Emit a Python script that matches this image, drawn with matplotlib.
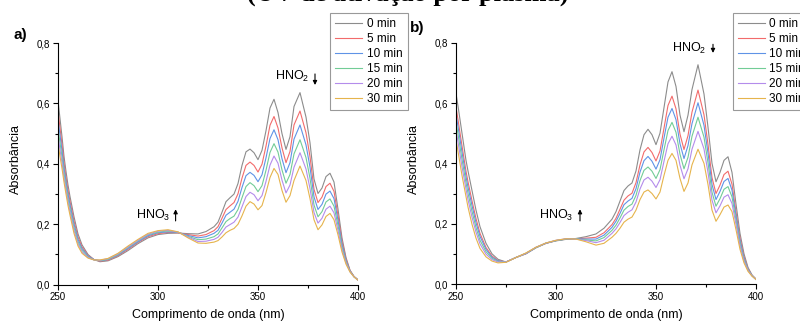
import matplotlib
matplotlib.use("Agg")
import matplotlib.pyplot as plt
from matplotlib.ticker import MultipleLocator, FuncFormatter

# ---- fonter ----
plt.rcParams['font.family'] = ['Liberation Sans', 'DejaVu Sans']
plt.rcParams['mathtext.fontset'] = 'custom'
plt.rcParams['mathtext.rm'] = 'Liberation Sans'

# ---- data ----
wl = [250, 251, 252, 253, 254, 255, 256, 258, 260, 262, 265, 268, 271, 275,
      280, 285, 290, 295, 300, 305, 310, 315, 320, 324, 328,
      330, 332, 334, 336, 338, 340, 342, 344, 346, 348, 350, 352, 354, 356, 358,
      360, 362, 364, 366, 368, 371, 374, 376, 378, 380, 382, 384, 386, 388,
      390, 392, 394, 396, 398, 400]

labels = ["0 min", "5 min", "10 min", "15 min", "20 min", "30 min"]

# panel a)
a_0 = [.610, .550, .490, .425, .375, .330, .292, .225, .168, .132, .100, .083, .076, .079,
       .093, .113, .136, .155, .166, .170, .171, .169, .168, .176, .192,
       .207, .240, .275, .288, .300, .335, .395, .440, .449, .437, .414, .445, .510, .585, .614,
       .570, .500, .448, .490, .590, .636, .555, .470, .350, .302, .320, .358, .369, .340,
       .250, .155, .090, .048, .027, .016]
a_5 = [.574, .519, .464, .404, .356, .313, .276, .211, .158, .125, .097, .083, .078, .081,
       .096, .117, .140, .159, .169, .173, .172, .166, .161, .166, .179,
       .192, .220, .249, .261, .272, .301, .353, .395, .406, .395, .373, .399, .459, .528, .557,
       .519, .453, .404, .441, .529, .575, .503, .424, .316, .272, .290, .325, .336, .309,
       .229, .143, .085, .047, .027, .016]
a_10 = [.546, .495, .444, .388, .342, .300, .265, .201, .150, .120, .095, .083, .079, .083,
        .098, .120, .142, .162, .172, .175, .173, .163, .155, .159, .170,
        .180, .204, .230, .240, .250, .276, .322, .361, .372, .362, .341, .364, .420, .484, .513,
        .480, .417, .371, .404, .482, .529, .463, .389, .291, .249, .266, .300, .310, .285,
        .213, .134, .080, .045, .027, .016]
a_15 = [.517, .470, .423, .371, .327, .286, .252, .190, .142, .114, .092, .082, .080, .084,
        .100, .123, .145, .165, .174, .178, .174, .160, .149, .151, .159,
        .168, .188, .209, .219, .227, .249, .288, .325, .338, .328, .308, .328, .379, .438, .467,
        .439, .380, .336, .365, .433, .480, .421, .352, .264, .225, .242, .274, .284, .260,
        .196, .125, .076, .044, .026, .015]
a_20 = [.491, .447, .404, .355, .313, .274, .241, .180, .135, .109, .090, .082, .081, .086,
        .102, .125, .147, .167, .177, .180, .174, .158, .143, .144, .150,
        .157, .173, .191, .199, .207, .224, .258, .292, .306, .298, .278, .295, .342, .396, .426,
        .402, .346, .304, .330, .389, .437, .383, .318, .239, .204, .220, .250, .260, .238,
        .180, .116, .072, .043, .026, .015]
a_30 = [.465, .425, .385, .340, .300, .262, .230, .170, .128, .104, .088, .082, .082, .087,
        .104, .128, .150, .170, .179, .182, .175, .155, .138, .137, .141,
        .146, .158, .172, .180, .186, .200, .228, .260, .275, .267, .248, .262, .305, .355, .385,
        .365, .312, .273, .295, .345, .393, .345, .285, .215, .182, .198, .226, .236, .215,
        .165, .108, .068, .042, .026, .015]

# panel b)
b_0 = [.632, .590, .545, .500, .455, .410, .375, .310, .245, .190, .135, .100, .082, .073,
       .088, .100, .120, .135, .143, .148, .151, .157, .166, .185, .215,
       .240, .275, .310, .325, .335, .375, .445, .495, .513, .495, .462, .500, .585, .670, .704,
       .655, .560, .505, .560, .645, .727, .630, .520, .400, .339, .370, .410, .422, .370,
       .265, .168, .100, .055, .030, .016]
b_5 = [.586, .545, .501, .458, .416, .374, .339, .276, .217, .168, .121, .093, .078, .073,
       .088, .101, .121, .135, .144, .149, .150, .152, .155, .170, .197,
       .218, .248, .278, .292, .301, .336, .395, .438, .453, .436, .408, .441, .517, .592, .623,
       .581, .497, .446, .492, .570, .643, .561, .463, .353, .300, .328, .363, .374, .331,
       .239, .152, .091, .051, .029, .016]
b_10 = [.562, .522, .480, .437, .396, .356, .321, .260, .203, .158, .115, .089, .077, .073,
        .088, .101, .121, .135, .144, .149, .150, .149, .149, .162, .188,
        .208, .234, .263, .275, .284, .316, .371, .409, .423, .407, .381, .412, .484, .553, .582,
        .545, .465, .416, .459, .532, .601, .526, .434, .330, .280, .307, .340, .350, .311,
        .227, .144, .086, .049, .028, .016]
b_15 = [.536, .497, .455, .413, .374, .336, .301, .241, .187, .145, .107, .085, .075, .073,
        .088, .102, .121, .136, .144, .149, .150, .146, .143, .154, .178,
        .195, .219, .245, .257, .265, .294, .343, .377, .388, .374, .350, .379, .445, .509, .536,
        .503, .430, .382, .420, .490, .553, .487, .402, .304, .258, .283, .314, .323, .289,
        .212, .135, .081, .047, .028, .015]
b_20 = [.510, .471, .430, .389, .352, .315, .280, .222, .172, .133, .099, .081, .073, .073,
        .088, .102, .122, .136, .145, .150, .149, .144, .137, .145, .168,
        .183, .204, .227, .238, .246, .272, .315, .345, .354, .341, .320, .346, .407, .465, .490,
        .461, .394, .349, .382, .447, .506, .448, .370, .278, .236, .259, .288, .296, .267,
        .198, .126, .076, .045, .027, .015]
b_30 = [.477, .440, .400, .360, .325, .290, .255, .198, .152, .118, .090, .076, .070, .072,
        .088, .103, .122, .136, .145, .150, .149, .140, .129, .135, .155,
        .168, .185, .205, .215, .222, .245, .280, .305, .312, .300, .282, .305, .360, .410, .433,
        .410, .350, .307, .335, .395, .447, .400, .330, .245, .208, .230, .255, .262, .240,
        .180, .115, .070, .042, .026, .015]

colors = ["#8c8c8c", "#f26b6b", "#5f93e6", "#72cc96", "#b48ceb", "#e6b44c"]


def comma(v, pos):
    # decimalkomma på y-axeln
    return f"{v:.1f}".replace('.', ',')


fig = plt.figure(figsize=(8, 3.23), dpi=100)
ax_a = fig.add_axes([0.0725, 0.1186, 0.375, 0.748])
ax_b = fig.add_axes([0.57, 0.1207, 0.375, 0.747])

panels = [
    (ax_a, [a_0, a_5, a_10, a_15, a_20, a_30], 0.4125),
    (ax_b, [b_0, b_5, b_10, b_15, b_20, b_30], 0.916),
]

for ax, series, leg_x in panels:
    for y, c, lab in zip(series, colors, labels):
        ax.plot(wl, y, color=c, lw=0.8, label=lab)
    ax.set_xlim(250, 400)
    ax.set_ylim(0, 0.8)
    ax.spines['top'].set_visible(False)
    ax.spines['right'].set_visible(False)
    ax.xaxis.set_major_locator(MultipleLocator(50))
    ax.xaxis.set_minor_locator(MultipleLocator(25))
    ax.yaxis.set_major_locator(MultipleLocator(0.2))
    ax.yaxis.set_minor_locator(MultipleLocator(0.1))
    ax.yaxis.set_major_formatter(FuncFormatter(comma))
    ax.tick_params(which='major', direction='out', length=3.5, width=0.8, labelsize=7, pad=2)
    ax.tick_params(which='minor', direction='out', length=2, width=0.8)
    ax.set_xlabel('Comprimento de onda (nm)', fontsize=9, labelpad=5)
    ax.set_ylabel('Absorbância', fontsize=9)
    ax.yaxis.set_label_coords(-0.12, 0.52)
    # legenden i b) går utanför figurkanten, precis som i originalet
    leg = ax.legend(loc='upper left', bbox_to_anchor=(leg_x, 0.96),
                    bbox_transform=fig.transFigure, fancybox=False,
                    edgecolor='#808080', fontsize=8.5, handlelength=2.3,
                    handletextpad=0.35, labelspacing=0.25, borderpad=0.45,
                    borderaxespad=0)
    leg.get_frame().set_linewidth(0.8)

# ---- pilar och text ----
arrow = dict(arrowstyle='-|>', lw=0.8, color='k', mutation_scale=6)
ax_a.text(375.5, 0.69, r'HNO$_\mathregular{2}$', ha='right', va='center', fontsize=9)
ax_a.annotate('', xy=(378.5, 0.652), xytext=(378.5, 0.707), arrowprops=arrow)
ax_a.text(306, 0.228, r'HNO$_\mathregular{3}$', ha='right', va='center', fontsize=9)
ax_a.annotate('', xy=(308.8, 0.259), xytext=(308.8, 0.202), arrowprops=arrow)

ax_b.text(375, 0.781, r'HNO$_\mathregular{2}$', ha='right', va='center', fontsize=9)
ax_b.annotate('', xy=(378.5, 0.757), xytext=(378.5, 0.804), arrowprops=arrow)
ax_b.text(308.5, 0.226, r'HNO$_\mathregular{3}$', ha='right', va='center', fontsize=9)
ax_b.annotate('', xy=(312, 0.257), xytext=(312, 0.200), arrowprops=arrow)

fig.text(13 / 800, 1 - 39 / 323, 'a)', fontsize=11, fontweight='bold')
fig.text(410 / 800, 1 - 32 / 323, 'b)', fontsize=11, fontweight='bold')

# rubrik som är avskuren i toppen
fig.text(0.51, 1 - 1 / 323, '(UV de ativação por plasma)', ha='center', va='baseline',
         fontsize=19, fontweight='bold', family='Liberation Serif')

fig.savefig('out.png', dpi=100)
